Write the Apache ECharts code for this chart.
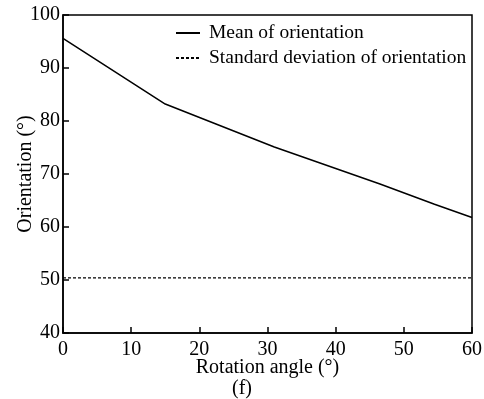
<!DOCTYPE html>
<html>
<head>
<meta charset="utf-8">
<script src="https://cdn.jsdelivr.net/npm/echarts@6/dist/echarts.min.js"></script>
<style>
html,body{margin:0;padding:0;background:#fff;}
#chart{width:484px;height:399px;}
</style>
</head>
<body>
<div id="chart"></div>
<script>
const seriesNames = ['Mean of orientation', 'Standard deviation of orientation'];
const meanX = [0, 15, 31, 46.5, 54.5, 60];
const meanY = [95.6, 83.2, 75.1, 68.1, 64.3, 61.8];
const stdX = [0, 60];
const stdY = [50.4, 50.4];
const xTicks = [0, 10, 20, 30, 40, 50, 60];
const yTicks = [40, 50, 60, 70, 80, 90, 100];
const xTitle = 'Rotation angle (°)';
const yTitle = 'Orientation (°)';
const caption = '(f)';

const font = 'Liberation Serif, Times New Roman, serif';
const chart = echarts.init(document.getElementById('chart'), null, {renderer: 'canvas'});
chart.setOption({
  animation: false,
  backgroundColor: '#fff',
  textStyle: {fontFamily: font, color: '#000'},
  grid: {left: 63, right: 12, top: 15, bottom: 66, outerBoundsMode: 'none', containLabel: false,
         show: true, borderColor: '#000', borderWidth: 1.5, backgroundColor: 'transparent'},
  legend: {
    orient: 'vertical', left: 170, top: 18, itemGap: 5, itemWidth: 24, itemHeight: 10,
    itemStyle: {opacity: 0},
    textStyle: {fontFamily: font, fontSize: 19.5, color: '#000', padding: [0, 0, 0, 4]},
    data: seriesNames
  },
  xAxis: {
    type: 'value', min: xTicks[0], max: xTicks[xTicks.length - 1], interval: 10,
    name: xTitle, nameLocation: 'middle', nameGap: 25, nameMoveOverlap: false,
    nameTextStyle: {fontFamily: font, fontSize: 20, color: '#000'},
    axisLine: {show: true, lineStyle: {color: '#000', width: 1.5}},
    axisTick: {show: true, inside: true, length: 6, lineStyle: {color: '#000', width: 1.5}},
    axisLabel: {fontFamily: font, fontSize: 20, color: '#000', margin: 7, hideOverlap: false},
    splitLine: {show: false}
  },
  yAxis: {
    type: 'value', min: yTicks[0], max: yTicks[yTicks.length - 1], interval: 10,
    name: yTitle, nameLocation: 'middle', nameGap: 27, nameMoveOverlap: false,
    nameTextStyle: {fontFamily: font, fontSize: 20, color: '#000'},
    axisLine: {show: true, lineStyle: {color: '#000', width: 1.5}},
    axisTick: {show: true, inside: true, length: 6, lineStyle: {color: '#000', width: 1.5}},
    axisLabel: {fontFamily: font, fontSize: 20, color: '#000', margin: 3, hideOverlap: false},
    splitLine: {show: false}
  },
  graphic: [{
    type: 'text', left: 'center', top: 379,
    style: {text: caption, font: '20px ' + font, fill: '#000'}
  }],
  series: [
    {
      name: seriesNames[0], type: 'line', symbol: 'none',
      data: meanX.map((x, i) => [x, meanY[i]]),
      lineStyle: {color: '#000', width: 1.5, type: 'solid'},
      itemStyle: {color: '#000'}
    },
    {
      name: seriesNames[1], type: 'line', symbol: 'none',
      data: stdX.map((x, i) => [x, stdY[i]]),
      lineStyle: {color: '#000', width: 1.2, type: [3, 2]},
      itemStyle: {color: '#000'}
    }
  ]
});
</script>
</body>
</html>
